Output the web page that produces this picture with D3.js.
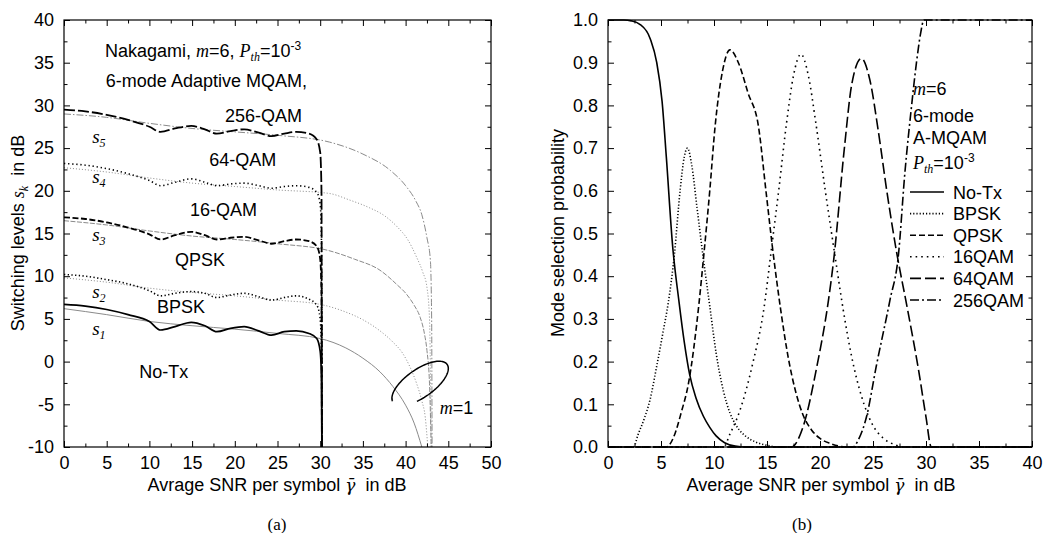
<!DOCTYPE html>
<html>
<head>
<meta charset="utf-8">
<script src="https://cdn.jsdelivr.net/npm/d3@7.9.0/dist/d3.min.js"></script>
<style>
  body { margin: 0; background: #fff; }
  text { font-family: "Liberation Sans", Arial, sans-serif; fill: #000; }
</style>
</head>
<body>
<svg id="chart" width="1047" height="533"></svg>
<script>
// ---- panel (a): switching levels, m=6 (black) ----
const s1m6 = [[0,6.7],[2.5,6.5],[5,6.1],[7.5,5.5],[10,4.7],[11.3,3.7],[13,4.1],[14.9,4.6],[16.5,4.2],[17.9,3.5],[19.5,3.9],[21.1,4.1],[22.8,3.6],[24.3,3.1],[25.8,3.5],[27.2,3.6],[28.7,3.3],[29.6,2.7],[30.0,1.2],[30.15,-2],[30.2,-10]];
const s2m6 = [[0,10.2],[2.5,10.0],[5,9.6],[7.5,9.1],[10,8.3],[11.3,7.7],[13,8.0],[14.9,8.2],[16.5,8.0],[17.9,7.5],[19.5,7.8],[21.1,8.0],[22.8,7.6],[24.3,7.2],[25.8,7.5],[27.2,7.7],[28.7,7.3],[29.6,6.6],[30.0,5],[30.15,1],[30.2,-10]];
const s3m6 = [[0,16.9],[2.5,16.7],[5,16.3],[7.5,15.7],[10,14.9],[11.3,14.3],[13,14.8],[14.9,15.2],[16.5,14.8],[17.9,14.3],[19.5,14.5],[21.1,14.6],[22.8,14.2],[24.3,13.8],[25.8,14.1],[27.2,14.3],[28.7,14.1],[29.6,13.5],[30.0,12],[30.15,8],[30.2,-10]];
const s4m6 = [[0,23.2],[2.5,23.0],[5,22.6],[7.5,22.0],[10,21.2],[11.3,20.6],[13,21.0],[14.9,21.4],[16.5,21.0],[17.9,20.6],[19.5,20.8],[21.1,20.9],[22.8,20.6],[24.3,20.3],[25.8,20.5],[27.2,20.6],[28.7,20.4],[29.6,19.8],[30.0,18.5],[30.15,14],[30.2,-10]];
const s5m6 = [[0,29.5],[2.5,29.3],[5,28.9],[7.5,28.3],[10,27.5],[11.3,26.9],[13,27.3],[14.9,27.6],[16.5,27.2],[17.9,26.7],[19.5,27.0],[21.1,27.2],[22.8,26.8],[24.3,26.4],[25.8,26.7],[27.2,26.9],[28.7,26.7],[29.6,26.0],[30.0,24.5],[30.15,20],[30.2,-10]];

// ---- panel (a): switching levels, m=1 (grey) ----
const s1m1 = [[0,6.2],[5,5.5],[10,4.7],[15,4.2],[20,3.8],[25,3.3],[30,2.7],[33,1.6],[35,0.4],[37,-1.2],[38.5,-2.9],[40,-5.1],[41,-7.2],[41.9,-10]];
const s2m1 = [[0,9.8],[5,9.3],[10,8.6],[15,8.1],[20,7.7],[25,7.2],[30,6.7],[33,5.8],[35,4.9],[37,3.6],[38.5,2.3],[39.7,0.9],[40.5,-0.6],[41.3,-2.6],[41.9,-4.6],[42.3,-6.5],[42.6,-10]];
const s3m1 = [[0,16.5],[5,16.0],[10,15.3],[15,14.7],[20,14.3],[25,13.8],[31,13.0],[34,12.0],[37,10.7],[39,9.0],[40.1,7.9],[41,6.6],[41.7,5.2],[42.2,3.3],[42.5,1.3],[42.8,-2.6],[43.0,-10]];
const s4m1 = [[0,22.7],[5,22.2],[10,21.5],[15,20.9],[20,20.5],[25,20.1],[31,19.7],[33.5,18.9],[35.8,18.0],[37.5,17.1],[39,15.8],[40.3,14.2],[41.3,12.2],[42,10.5],[42.5,8.7],[42.8,5],[43.0,-10]];
const s5m1 = [[0,29.0],[5,28.6],[10,27.9],[15,27.3],[20,26.9],[25,26.5],[31.1,25.7],[35,24.3],[38.2,22.4],[40,20.6],[41.2,18.8],[41.9,17.2],[42.5,14.5],[42.9,11.9],[43.05,5],[43.1,-10]];

// ---- panel (b): mode selection probability ----
const pNoTx  = [[0,1],[1.5,1],[2.2,0.998],[3,0.99],[4,0.955],[4.6,0.9],[5.1,0.81],[5.5,0.68],[6.1,0.47],[6.7,0.34],[7.2,0.245],[7.7,0.17],[8.3,0.115],[9,0.072],[9.6,0.046],[10.2,0.026],[11,0.01],[12,0.002],[13,0],[40,0]];
const pBPSK  = [[0,0],[2.4,0],[2.85,0.03],[3.4,0.065],[3.96,0.11],[4.6,0.19],[5.2,0.27],[5.7,0.34],[6.26,0.45],[6.8,0.6],[7.2,0.68],[7.5,0.70],[7.9,0.66],[8.4,0.56],[9,0.44],[9.6,0.33],[10.2,0.22],[10.9,0.13],[11.5,0.08],[12.1,0.05],[13,0.025],[13.9,0.012],[15,0.004],[16,0],[40,0]];
const pQPSK  = [[0,0],[5.5,0],[6.3,0.03],[6.9,0.08],[7.6,0.15],[8.6,0.34],[9,0.44],[9.6,0.6],[10.1,0.75],[10.8,0.88],[11.5,0.93],[12.3,0.9],[13.2,0.83],[14.2,0.75],[14.9,0.6],[15.6,0.45],[16.3,0.32],[17,0.21],[17.7,0.13],[18.4,0.075],[19.2,0.04],[20,0.02],[21,0.008],[22.5,0],[40,0]];
const p16QAM = [[0,0],[10.9,0],[11.5,0.03],[12.45,0.086],[13.6,0.19],[14.8,0.34],[15.3,0.44],[16.1,0.6],[16.85,0.76],[17.5,0.87],[18.2,0.92],[18.9,0.87],[19.6,0.76],[20.5,0.6],[21.4,0.45],[22.2,0.32],[23,0.21],[23.9,0.12],[24.9,0.055],[26,0.02],[27,0.006],[28,0],[40,0]];
const p64QAM = [[0,0],[17.3,0],[18.4,0.047],[19.7,0.188],[20.8,0.344],[21.3,0.44],[22.3,0.7],[23,0.85],[23.9,0.91],[24.7,0.86],[25.5,0.74],[26.3,0.6],[27.2,0.46],[28.2,0.33],[29.3,0.18],[30,0.07],[30.5,0],[40,0]];
const p256QAM= [[0,0],[23.1,0],[23.6,0.016],[24.4,0.072],[25.3,0.188],[26.6,0.344],[27.4,0.45],[28,0.64],[28.6,0.79],[29.1,0.9],[29.5,0.97],[29.8,1],[40,1]];

const legendLabels = ['No-Tx', 'BPSK', 'QPSK', '16QAM', '64QAM', '256QAM'];
const xTicksA = d3.range(0, 51, 5);
const yTicksA = d3.range(-10, 41, 5);
const xTicksB = d3.range(0, 41, 5);
const yTicksB = d3.range(0, 1.01, 0.1);

const svg = d3.select('#chart');
const xA = d3.scaleLinear([0, 50], [64, 491]);
const yA = d3.scaleLinear([-10, 40], [447, 20]);
const xB = d3.scaleLinear([0, 40], [608, 1032]);
const yB = d3.scaleLinear([0, 1], [447, 20]);

function frame(x, y, xt, xm, yt, ym, fmt) {
  const g = svg.append('g');
  const [x0, x1] = x.range(), [y1, y0] = y.range();
  const style = (s) => { s.select('.domain').remove(); s.selectAll('text').attr('font-size', 18); s.selectAll('line').attr('stroke', '#000'); };
  g.append('g').attr('transform', `translate(0,${y1})`).call(d3.axisBottom(x).tickValues(xt).tickSize(-6).tickPadding(9)).call(style);
  g.append('g').attr('transform', `translate(0,${y1})`).call(d3.axisBottom(x).tickValues(xm).tickSize(-3.5).tickFormat('')).call(style);
  g.append('g').attr('transform', `translate(0,${y0})`).call(d3.axisTop(x).tickValues(xt).tickSize(-6).tickFormat('')).call(style);
  g.append('g').attr('transform', `translate(0,${y0})`).call(d3.axisTop(x).tickValues(xm).tickSize(-3.5).tickFormat('')).call(style);
  g.append('g').attr('transform', `translate(${x0},0)`).call(d3.axisLeft(y).tickValues(yt).tickSize(-6).tickPadding(10).tickFormat(fmt)).call(style);
  g.append('g').attr('transform', `translate(${x0},0)`).call(d3.axisLeft(y).tickValues(ym).tickSize(-3.5).tickFormat('')).call(style);
  g.append('g').attr('transform', `translate(${x1},0)`).call(d3.axisRight(y).tickValues(yt).tickSize(-6).tickFormat('')).call(style);
  g.append('g').attr('transform', `translate(${x1},0)`).call(d3.axisRight(y).tickValues(ym).tickSize(-3.5).tickFormat('')).call(style);
  g.append('rect').attr('x', x0).attr('y', y0).attr('width', x1 - x0).attr('height', y1 - y0)
    .attr('fill', 'none').attr('stroke', '#000').attr('stroke-width', 1.2);
}

// rich text helper: parts = [{t, i, g, fs, dy}]
function rich(x, y, parts, size = 18, anchor = 'start', rot = 0) {
  const t = svg.append('text').attr('x', x).attr('y', y).attr('font-size', size)
    .attr('text-anchor', anchor).style('white-space', 'pre');
  if (rot) t.attr('transform', `rotate(${rot},${x},${y})`);
  parts.forEach(p => {
    const ts = t.append('tspan').text(p.t);
    if (p.i) ts.style('font-family', p.g ? 'DejaVu Serif' : 'Liberation Serif').style('font-style', 'italic');
    if (p.fs) ts.attr('font-size', p.fs);
    if (p.dy) ts.attr('dy', p.dy);
  });
  return t;
}

// clip paths
const defs = svg.append('defs');
defs.append('clipPath').attr('id', 'clipA').append('rect').attr('x', 64).attr('y', 20).attr('width', 427).attr('height', 427);
defs.append('clipPath').attr('id', 'clipB').append('rect').attr('x', 608).attr('y', 18).attr('width', 424).attr('height', 430);

// ---------------- panel (a) ----------------
const lineA = d3.line().x(d => xA(d[0])).y(d => yA(d[1])).curve(d3.curveMonotoneX);
const gA = svg.append('g').attr('clip-path', 'url(#clipA)');
const greyDash = ['none', '1,2', '5,1.5', '1,2', '7,2,1.5,2'];
[s1m1, s2m1, s3m1, s4m1, s5m1].forEach((s, i) => {
  gA.append('path').attr('d', lineA(s)).attr('fill', 'none').attr('stroke', '#8a8a8a')
    .attr('stroke-width', 1).attr('stroke-dasharray', greyDash[i]);
});
const blackDash = ['none', '1.3,2.4', '6,2.5', '1.3,2.8', '11,3'];
[s1m6, s2m6, s3m6, s4m6, s5m6].forEach((s, i) => {
  gA.append('path').attr('d', lineA(s)).attr('fill', 'none').attr('stroke', '#000')
    .attr('stroke-width', i === 0 ? 1.7 : (i % 2 ? 1.6 : 1.8)).attr('stroke-dasharray', blackDash[i]);
});

// m=1 ellipse
{
  const cx = xA(41.7), cy = yA(-2.55), rx = 33, ry = 14, a = -35 * Math.PI / 180;
  const pts = d3.range(185, 475, 3).map(t => {
    const r = -t * Math.PI / 180;
    const ex = rx * Math.cos(r), ey = -ry * Math.sin(r);
    return [cx + ex * Math.cos(a) - ey * Math.sin(a), cy + ex * Math.sin(a) + ey * Math.cos(a)];
  });
  svg.append('path').attr('d', d3.line()(pts)).attr('fill', 'none').attr('stroke', '#000').attr('stroke-width', 1.5);
}

frame(xA, yA, xTicksA, d3.range(2.5, 50, 5), yTicksA, d3.range(-7.5, 40, 5), d => String(d));

rich(xA(4.8), yA(35.7), [{t: 'Nakagami, '}, {t: 'm', i: 1}, {t: '=6, '}, {t: 'P', i: 1}, {t: 'th', i: 1, fs: 12, dy: 4}, {t: '=10', dy: -4}, {t: '-3', fs: 12, dy: -7}]);
rich(xA(4.9), yA(32.1), [{t: '6-mode Adaptive MQAM,'}]);
rich(xA(18.85), yA(28.0), [{t: '256-QAM'}]);
rich(xA(17.0), yA(22.9), [{t: '64-QAM'}]);
rich(xA(14.75), yA(17.0), [{t: '16-QAM'}]);
rich(xA(13.0), yA(11.2), [{t: 'QPSK'}]);
rich(xA(10.9), yA(5.7), [{t: 'BPSK'}]);
rich(xA(8.8), yA(-1.9), [{t: 'No-Tx'}]);
[[25.6, '5'], [20.9, '4'], [14.1, '3'], [7.4, '2'], [3.1, '1']].forEach(([v, k]) => {
  rich(xA(3.3), yA(v), [{t: 's', i: 1}, {t: k, i: 1, fs: 12, dy: 4}], 19);
});
rich(xA(44.0), yA(-6.1), [{t: 'm', i: 1}, {t: '=1'}]);

rich(277, 491, [{t: 'Avrage SNR per symbol '}, {t: 'γ\u0304', i: 1, g: 1, fs: 17}, {t: '  in dB'}], 18, 'middle');
rich(24, 233, [{t: 'Switching levels '}, {t: 's', i: 1}, {t: 'k', i: 1, fs: 12, dy: 4}, {t: '  in dB', dy: -4}], 18, 'middle', -90);
svg.append('text').attr('x', 277).attr('y', 530).attr('text-anchor', 'middle')
  .style('font-family', 'Liberation Serif').attr('font-size', 17).text('(a)');

// ---------------- panel (b) ----------------
const lineB = d3.line().x(d => xB(d[0])).y(d => yB(d[1])).curve(d3.curveMonotoneX);
const gB = svg.append('g').attr('clip-path', 'url(#clipB)');
const dashB = ['none', '1.2,2', '6,3', '1.6,4', '11,4', '9,3,2,3'];
const seriesB = [pNoTx, pBPSK, pQPSK, p16QAM, p64QAM, p256QAM];
seriesB.forEach((s, i) => {
  gB.append('path').attr('d', lineB(s)).attr('fill', 'none').attr('stroke', '#000')
    .attr('stroke-width', 1.6).attr('stroke-dasharray', dashB[i]);
});

frame(xB, yB, xTicksB, d3.range(2.5, 40, 5), yTicksB, d3.range(0.05, 1, 0.1), d3.format('.1f'));

rich(913, 95, [{t: 'm', i: 1}, {t: '=6'}]);
rich(913, 122, [{t: '6-mode'}]);
rich(913, 144, [{t: 'A-MQAM'}]);
rich(913, 169, [{t: 'P', i: 1}, {t: 'th', i: 1, fs: 12, dy: 4}, {t: '=10', dy: -4}, {t: '-3', fs: 12, dy: -7}]);

legendLabels.forEach((lab, i) => {
  const ly = 192 + i * 21.6;
  svg.append('line').attr('x1', 910).attr('x2', 944).attr('y1', ly).attr('y2', ly)
    .attr('stroke', '#000').attr('stroke-width', 1.6).attr('stroke-dasharray', dashB[i]);
  svg.append('text').attr('x', 953).attr('y', ly + 6.5).attr('font-size', 18).text(lab);
});

rich(821, 491, [{t: 'Average SNR per symbol '}, {t: 'γ\u0304', i: 1, g: 1, fs: 17}, {t: '  in dB'}], 18, 'middle');
rich(564, 233, [{t: 'Mode selection probability'}], 18, 'middle', -90);
svg.append('text').attr('x', 802).attr('y', 530).attr('text-anchor', 'middle')
  .style('font-family', 'Liberation Serif').attr('font-size', 17).text('(b)');
</script>
</body>
</html>
